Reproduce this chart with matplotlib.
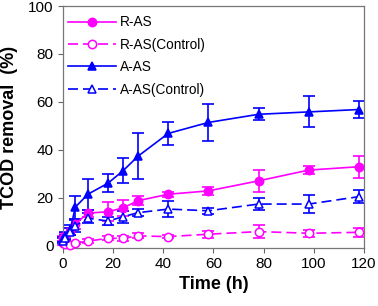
import matplotlib
matplotlib.use("Agg")
import matplotlib.pyplot as plt

time_h = [0, 1, 3, 5, 10, 18, 24, 30, 42, 58, 78, 98, 118]

r_as = [3.0, 4.0, 6.0, 9.0, 13.5, 14.1, 15.7, 18.7, 21.4, 22.8, 27.0, 31.5, 32.9]
r_as_err = [1.0, 1.0, 1.5, 2.0, 1.5, 4.0, 3.5, 2.0, 1.0, 1.8, 4.5, 1.8, 4.6]

r_as_ctrl = [1.0, 0.5, 0.2, 1.0, 1.8, 3.0, 3.0, 4.0, 3.7, 4.7, 5.8, 5.1, 5.5]
r_as_ctrl_err = [1.0, 0.5, 0.5, 0.5, 0.8, 0.8, 1.0, 1.0, 0.5, 1.5, 2.6, 1.5, 2.0]

a_as = [2.5, 4.0, 6.5, 16.0, 21.4, 26.0, 31.2, 37.3, 46.8, 51.4, 54.8, 55.8, 56.8]
a_as_err = [1.0, 1.5, 2.0, 4.8, 6.4, 3.7, 5.3, 9.7, 4.7, 7.6, 2.5, 6.5, 3.7]

a_as_ctrl = [2.0, 3.2, 5.7, 8.2, 11.4, 10.2, 12.0, 13.7, 15.2, 14.5, 17.3, 17.3, 20.4]
a_as_ctrl_err = [1.0, 1.0, 1.5, 2.5, 2.0, 1.5, 2.5, 1.5, 3.5, 1.2, 2.5, 3.9, 2.8]

labels = ["R-AS", "R-AS(Control)", "A-AS", "A-AS(Control)"]
x_ticks = [0, 20, 40, 60, 80, 100, 120]
y_ticks = [0, 20, 40, 60, 80, 100]

plt.rcParams['font.family'] = ['Liberation Sans', 'DejaVu Sans']

fig = plt.figure(figsize=(3.78, 3.06), dpi=100)
ax = fig.add_axes([0.166, 0.190, 0.797, 0.790])

MAG = '#FF00FF'
BLU = '#0000FF'
dash = (0, (6, 3))

series = [
    (r_as, r_as_err, MAG, 'o', MAG, '-'),
    (r_as_ctrl, r_as_ctrl_err, MAG, 'o', 'white', dash),
    (a_as, a_as_err, BLU, '^', BLU, '-'),
    (a_as_ctrl, a_as_ctrl_err, BLU, '^', 'white', dash),
]

for (vals, errs, col, mk, fc, ls), lab in zip(series, labels):
    ax.errorbar(time_h, vals, yerr=errs, fmt='none', ecolor=col, elinewidth=1.2,
                capsize=4.5, capthick=1.2, clip_on=False, zorder=2)
    ax.plot(time_h, vals, color=col, linestyle=ls, linewidth=1.2, marker=mk,
            markersize=6, markerfacecolor=fc, markeredgecolor=col, markeredgewidth=1.1,
            label=lab, clip_on=False, zorder=3)

ax.set_xlim(0, 120)
ax.set_ylim(-1, 100)
ax.set_xticks(x_ticks)
ax.set_yticks(y_ticks)
ax.tick_params(direction='out', length=3.5, width=0.8, color='#666666',
               labelsize=11, pad=3)
for s in ax.spines.values():
    s.set_color('#777777')
    s.set_linewidth(0.9)

ax.set_xlabel("Time (h)", fontsize=13, fontweight='bold', labelpad=4)
ax.set_ylabel("TCOD removal  (%)", fontsize=13, fontweight='bold', labelpad=7)

leg = ax.legend(loc='upper left', bbox_to_anchor=(0.018, 0.962), frameon=False,
                fontsize=9.8, handlelength=3.5, handletextpad=0.3, labelspacing=0.62,
                borderpad=0, borderaxespad=0, numpoints=1)

fig.savefig("out.png", dpi=100)
